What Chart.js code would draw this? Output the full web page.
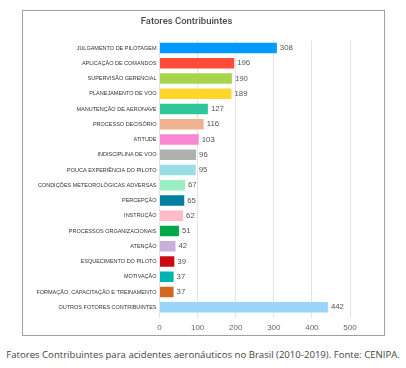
<!DOCTYPE html>
<html>
<head>
<meta charset="utf-8">
<script src="https://cdn.jsdelivr.net/npm/chart.js@4"></script>
<style>
	body {
		margin: 0;
		width: 406px;
		height: 368px;
		background: #fff;
		position: relative;
		overflow: hidden;
	}
	.frame {
		position: absolute;
		left: 22px;
		top: 10px;
		width: 361px;
		height: 324px;
		border: 1px solid #a0a0a0;
	}
	.plot {
		position: absolute;
		left: 0;
		top: 0;
		width: 361px;
		height: 324px;
	}
	.caption {
		position: absolute;
		left: 0;
		top: 348px;
		width: 406px;
		text-align: center;
		font-family: "Open Sans", sans-serif;
		font-size: 9.6px;
		color: #444;
		white-space: nowrap;
	}
</style>
</head>
<body>
<div class="frame">
	<div class="plot"><canvas id="chart"></canvas></div>
</div>
<div class="caption">Fatores Contribuintes para acidentes aeronáuticos no Brasil (2010-2019). Fonte: CENIPA.</div>
<script>
const categories = [
	"JULGAMENTO DE PILOTAGEM",
	"APLICAÇÃO DE COMANDOS",
	"SUPERVISÃO GERENCIAL",
	"PLANEJAMENTO DE VOO",
	"MANUTENÇÃO DE AERONAVE",
	"PROCESSO DECISÓRIO",
	"ATITUDE",
	"INDISCIPLINA DE VOO",
	"POUCA EXPERIÊNCIA DO PILOTO",
	"CONDIÇÕES METEOROLÓGICAS ADVERSAS",
	"PERCEPÇÃO",
	"INSTRUÇÃO",
	"PROCESSOS ORGANIZACIONAIS",
	"ATENÇÃO",
	"ESQUECIMENTO DO PILOTO",
	"MOTIVAÇÃO",
	"FORMAÇÃO, CAPACITAÇÃO E TREINAMENTO",
	"OUTROS FOTORES CONTRIBUINTES"
];
const counts = [308, 196, 190, 189, 127, 116, 103, 96, 95, 67, 65, 62, 51, 42, 39, 37, 37, 442];
const barColors = [
	"#0099ff", "#ff4b38", "#a8d44c", "#ffd52e", "#2ec799", "#efb391",
	"#f986d0", "#b0b0b0", "#99dce6", "#99eec3", "#017f9c", "#ffbbc8",
	"#00a84a", "#c9b0da", "#cc0a12", "#00b3b3", "#d2691f", "#99d5fb"
];
const xTicks = [0, 100, 200, 300, 400, 500];

const valueLabels = {
	id: "valueLabels",
	afterDatasetsDraw(chart) {
		const ctx = chart.ctx;
		const meta = chart.getDatasetMeta(0);
		ctx.save();
		ctx.font = "7.8px 'Liberation Sans', Arial, sans-serif";
		ctx.fillStyle = "#555";
		ctx.textAlign = "left";
		ctx.textBaseline = "middle";
		meta.data.forEach((bar, i) => {
			ctx.fillText(String(counts[i]), bar.x + 3, bar.y);
		});
		ctx.restore();
	}
};

const context = document.getElementById("chart").getContext("2d");
const chart = new Chart(context, {
	type: "bar",
	data: {
		labels: categories,
		datasets: [
			{
				data: counts,
				backgroundColor: barColors,
				borderWidth: 0,
				barPercentage: 0.7,
				categoryPercentage: 1
			}
		]
	},
	options: {
		indexAxis: "y",
		maintainAspectRatio: false,
		animation: false,
		layout: {
			padding: { top: 5, right: 34, bottom: -2.5, left: 0 }
		},
		plugins: {
			legend: { display: false },
			tooltip: { enabled: false },
			title: {
				display: true,
				text: "Fatores Contribuintes",
				color: "#4a4a4a",
				font: { family: "Roboto, sans-serif", size: 9.5, weight: "500" },
				padding: { top: 0, bottom: 13 }
			}
		},
		scales: {
			x: {
				min: 0,
				max: 500,
				afterBuildTicks: axis => {
					axis.ticks = xTicks.map(v => ({ value: v }));
				},
				grid: {
					color: "#e4e4e4",
					tickLength: 3
				},
				border: { display: false },
				ticks: {
					color: "#666",
					padding: 5,
					font: { family: "'Liberation Sans', Arial, sans-serif", size: 8 }
				}
			},
			y: {
				afterFit: axis => {
					axis.width = 136.5;
				},
				grid: { display: false, drawTicks: false },
				border: { display: false },
				ticks: {
					color: "#333",
					padding: 3,
					autoSkip: false,
					font: { family: "'Liberation Sans', Arial, sans-serif", size: 5.5 }
				}
			}
		}
	},
	plugins: [valueLabels]
});
</script>
</body>
</html>
